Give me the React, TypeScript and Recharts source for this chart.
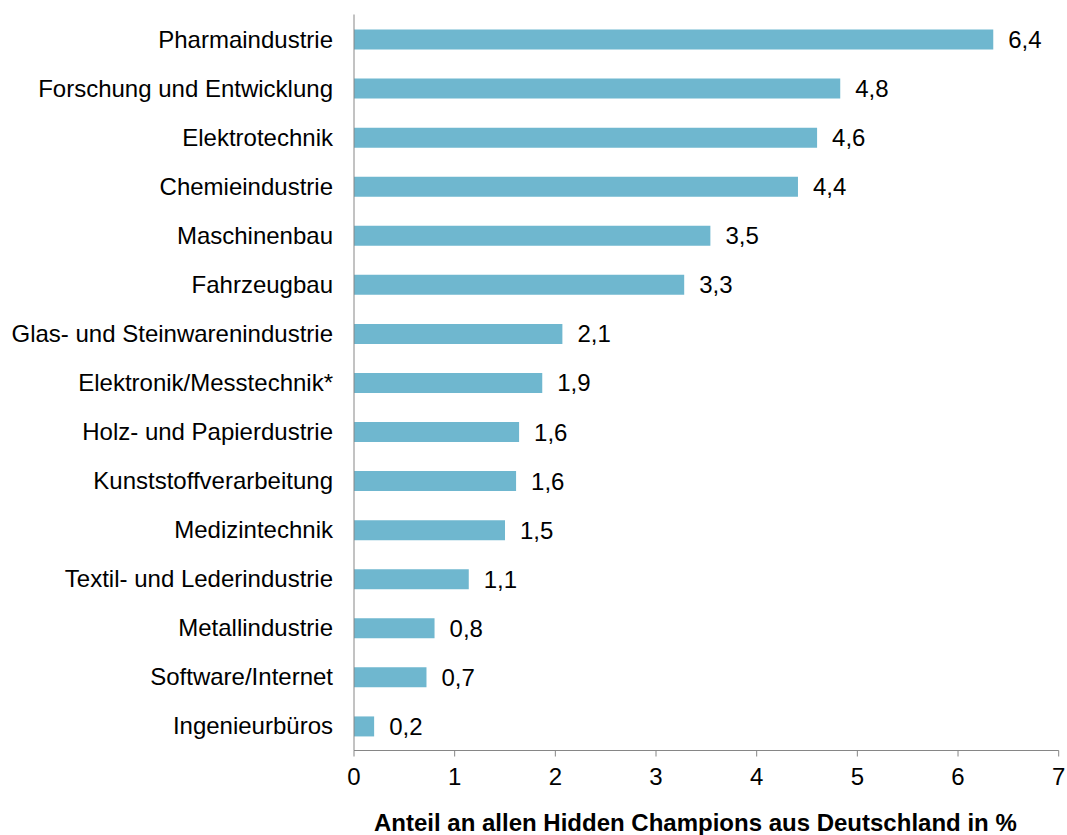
import { BarChart, Bar, XAxis, YAxis, LabelList, Label } from 'recharts'

const categories = [
  'Pharmaindustrie',
  'Forschung und Entwicklung',
  'Elektrotechnik',
  'Chemieindustrie',
  'Maschinenbau',
  'Fahrzeugbau',
  'Glas- und Steinwarenindustrie',
  'Elektronik/Messtechnik*',
  'Holz- und Papierdustrie',
  'Kunststoffverarbeitung',
  'Medizintechnik',
  'Textil- und Lederindustrie',
  'Metallindustrie',
  'Software/Internet',
  'Ingenieurbüros'
]

// bar lengths as measured, labels as printed (rounded)
const shares = [6.35, 4.83, 4.6, 4.41, 3.54, 3.28, 2.07, 1.87, 1.64, 1.61, 1.5, 1.14, 0.8, 0.72, 0.2]
const shareLabels = ['6,4', '4,8', '4,6', '4,4', '3,5', '3,3', '2,1', '1,9', '1,6', '1,6', '1,5', '1,1', '0,8', '0,7', '0,2']

const xTicks = [0, 1, 2, 3, 4, 5, 6, 7]

const axisColor = '#868686'
const barColor = '#6FB7CF'
const font = 'Arial, "Liberation Sans", sans-serif'

export default function App() {
  const data = categories.map((name, i) => ({ name, value: shares[i], label: shareLabels[i] }))

  return (
    <div style={{ position: 'absolute', left: 0, top: 0, fontFamily: font }}>
      <BarChart
        width={1067}
        height={835}
        data={data}
        layout="vertical"
        margin={{ top: 14.5, right: 8.3, bottom: 0, left: 0 }}
      >
        <XAxis
          type="number"
          domain={[0, 7]}
          ticks={xTicks}
          stroke={axisColor}
          tickSize={6}
          tickMargin={11}
          height={84.5}
          tick={{ fill: '#000', fontSize: 24, fontFamily: font }}
        >
          <Label
            value="Anteil an allen Hidden Champions aus Deutschland in %"
            position="insideBottom"
            offset={4}
            dx={-11}
            style={{ fill: '#000', fontSize: 24, fontWeight: 'bold', fontFamily: font }}
          />
        </XAxis>
        <YAxis
          type="category"
          dataKey="name"
          width={354}
          stroke={axisColor}
          tickLine={false}
          tickSize={0}
          tickMargin={21}
          interval={0}
          tick={{ fill: '#000', fontSize: 24, fontFamily: font }}
        />
        <Bar dataKey="value" fill={barColor} barSize={20} isAnimationActive={false}>
          <LabelList
            dataKey="label"
            position="right"
            offset={15}
            style={{ fill: '#000', fontSize: 24, fontFamily: font }}
          />
        </Bar>
      </BarChart>
    </div>
  )
}
